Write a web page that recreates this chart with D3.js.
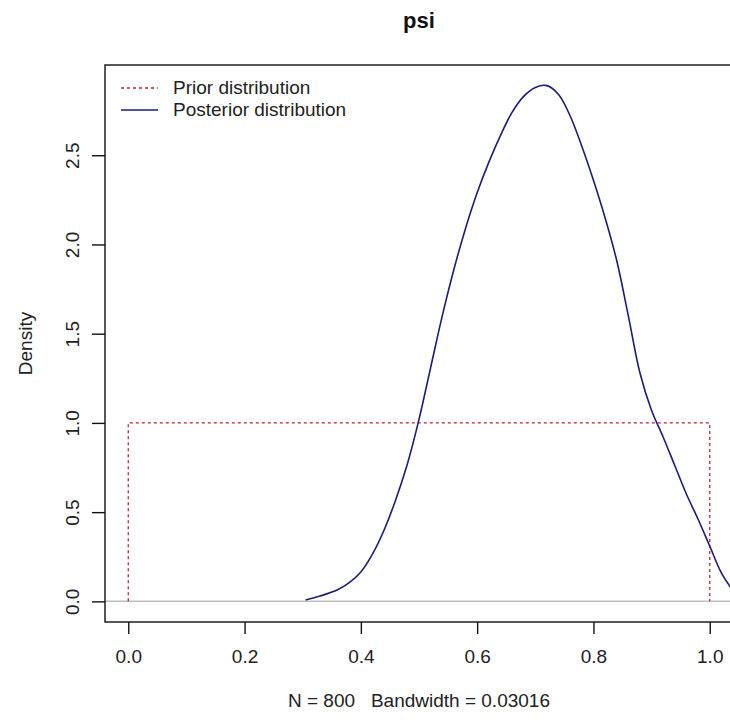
<!DOCTYPE html>
<html>
<head>
<meta charset="utf-8">
<script src="https://cdn.jsdelivr.net/npm/d3@7"></script>
<style>
  html, body { margin: 0; padding: 0; background: #fff; }
  svg { display: block; font-family: "Liberation Sans", Arial, sans-serif; }
</style>
</head>
<body>
<svg id="chart" width="730" height="720"></svg>
<script>
// ---- data ----
const title = "psi";
const xLabel = "N = 800   Bandwidth = 0.03016";
const yLabel = "Density";
const xTicks = [0.0, 0.2, 0.4, 0.6, 0.8, 1.0];
const yTicks = [0.0, 0.5, 1.0, 1.5, 2.0, 2.5];
const legendLabels = ["Prior distribution", "Posterior distribution"];
const priorX = [0, 0, 1, 1];
const priorY = [0, 1, 1, 0];
const postX = [0.305, 0.33, 0.36, 0.38, 0.40, 0.42, 0.44, 0.46, 0.48, 0.50,
               0.52, 0.54, 0.56, 0.58, 0.60, 0.62, 0.64, 0.66, 0.68, 0.70,
               0.72, 0.74, 0.76, 0.78, 0.80, 0.82, 0.84, 0.86, 0.88, 0.90,
               0.92, 0.94, 0.96, 0.98, 1.00, 1.02, 1.04];
const postY = [0.008, 0.03, 0.065, 0.105, 0.165, 0.265, 0.40, 0.57, 0.77, 1.02,
               1.31, 1.60, 1.86, 2.09, 2.29, 2.46, 2.61, 2.74, 2.83, 2.88,
               2.89, 2.84, 2.72, 2.55, 2.36, 2.15, 1.91, 1.60, 1.28, 1.07,
               0.92, 0.76, 0.60, 0.46, 0.31, 0.16, 0.06];

// ---- layout ----
const box = { left: 105, top: 65, bottom: 622, right: 733 };
const xlim = [0, 1];
const ylim = [0, d3.max(postY)];
const xr = xlim[1] - xlim[0], yr = ylim[1] - ylim[0];
const x = d3.scaleLinear().domain([xlim[0] - 0.04 * xr, xlim[1] + 0.04 * xr]).range([box.left, box.right]);
const y = d3.scaleLinear().domain([ylim[0] - 0.04 * yr, ylim[1] + 0.04 * yr]).range([box.bottom, box.top]);

const svg = d3.select("#chart");
const fs = 19;
const textCol = "#222";

// zero line
svg.append("line")
  .attr("x1", box.left).attr("x2", box.right)
  .attr("y1", y(0)).attr("y2", y(0))
  .attr("stroke", "#bebebe").attr("stroke-width", 1.5);

// prior
const line = d3.line().x(d => x(d[0])).y(d => y(d[1]));
svg.append("path")
  .attr("d", line(priorX.map((v, i) => [v, priorY[i]])))
  .attr("fill", "none").attr("stroke", "#b8292f").attr("stroke-width", 1.3)
  .attr("stroke-dasharray", "3,3");

// posterior
const cl = d3.line().x(d => x(d[0])).y(d => y(d[1])).curve(d3.curveCatmullRom.alpha(0.5));
svg.append("path")
  .attr("d", cl(postX.map((v, i) => [v, postY[i]])))
  .attr("fill", "none").attr("stroke", "#1c1c7a").attr("stroke-width", 1.6);

// box
svg.append("rect")
  .attr("x", box.left).attr("y", box.top)
  .attr("width", box.right - box.left).attr("height", box.bottom - box.top)
  .attr("fill", "none").attr("stroke", "#111").attr("stroke-width", 1.4);

// x axis
const xAxis = d3.axisBottom(x).tickValues(xTicks).tickFormat(d3.format(".1f")).tickSize(12).tickSizeOuter(0);
const gx = svg.append("g").attr("transform", `translate(0,${box.bottom})`).call(xAxis);
gx.select(".domain").remove();
gx.selectAll(".tick line").attr("stroke", "#111").attr("stroke-width", 1.4);
gx.selectAll(".tick text").attr("font-size", fs).attr("fill", textCol)
  .attr("font-family", "Liberation Sans, Arial, sans-serif").attr("dy", null).attr("y", 36).attr("dominant-baseline", "middle");

// y axis
const yAxis = d3.axisLeft(y).tickValues(yTicks).tickFormat(d3.format(".1f")).tickSize(13).tickSizeOuter(0);
const gy = svg.append("g").attr("transform", `translate(${box.left},0)`).call(yAxis);
gy.select(".domain").remove();
gy.selectAll(".tick line").attr("stroke", "#111").attr("stroke-width", 1.4);
gy.selectAll(".tick text").attr("font-size", fs).attr("fill", textCol)
  .attr("font-family", "Liberation Sans, Arial, sans-serif")
  .attr("x", null).attr("dy", null).attr("text-anchor", "middle").attr("dominant-baseline", "middle")
  .attr("transform", "translate(-31,0) rotate(-90)");

// title
svg.append("text").attr("x", (box.left + box.right) / 2).attr("y", 22)
  .attr("text-anchor", "middle").attr("dominant-baseline", "middle")
  .attr("font-size", 22).attr("font-weight", "bold").attr("fill", "#111").text(title);

// x label
svg.append("text").attr("x", (box.left + box.right) / 2).attr("y", 702)
  .attr("text-anchor", "middle").attr("dominant-baseline", "middle")
  .attr("xml:space", "preserve").style("white-space", "pre")
  .attr("font-size", fs).attr("fill", textCol).text(xLabel);

// y label
svg.append("text").attr("transform", `translate(27,${(box.top + box.bottom) / 2}) rotate(-90)`)
  .attr("text-anchor", "middle").attr("dominant-baseline", "middle")
  .attr("font-size", fs).attr("fill", textCol).text(yLabel);

// legend
const leg = svg.append("g");
const legColors = ["#b8292f", "#1c1c7a"];
const legDash = ["3,3", null];
legendLabels.forEach((lab, i) => {
  const ly = 88 + i * 22;
  leg.append("line").attr("x1", 121).attr("x2", 158).attr("y1", ly).attr("y2", ly)
    .attr("stroke", legColors[i]).attr("stroke-width", i ? 1.6 : 1.3)
    .attr("stroke-dasharray", legDash[i]);
  leg.append("text").attr("x", 173).attr("y", ly + 1).attr("dominant-baseline", "middle")
    .attr("font-size", fs).attr("fill", textCol).text(lab);
});
</script>
</body>
</html>
